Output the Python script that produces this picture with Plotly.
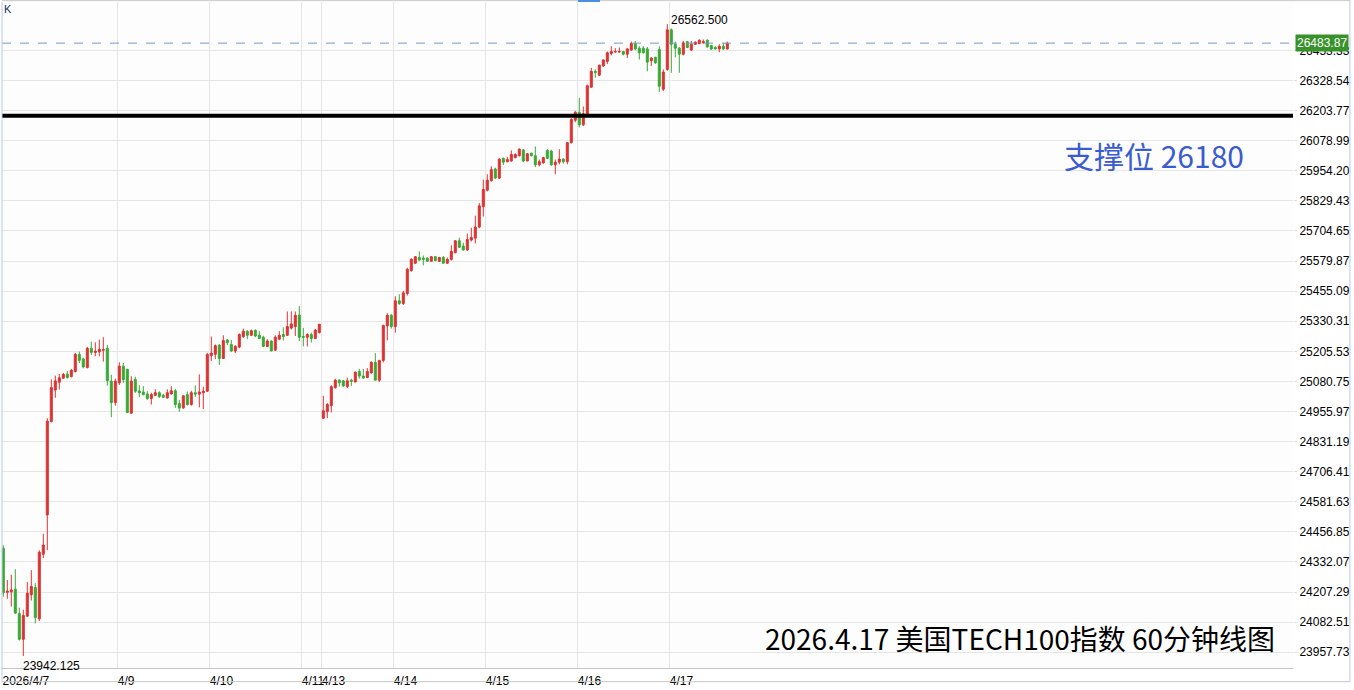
import plotly.graph_objects as go

# ---------------- data (hourly candles, 2026/4/7 - 4/17) ----------------
opens = [24389, 24206, 24208, 24219, 24118, 24011, 24107, 24196, 24226, 24096,
         24364, 24527, 24914, 25045, 25077, 25094, 25111, 25101, 25122, 25193,
         25174, 25138, 25218, 25201, 25203, 25210, 25218, 25082, 24993, 25075,
         25144, 25131, 24949, 25089, 25041, 25037, 25029, 25010, 25023, 25034,
         25023, 25012, 25029, 25042, 24989, 24971, 25026, 24985, 25034, 25028,
         25034, 25040, 25188, 25193, 25231, 25176, 25253, 25234, 25207, 25223,
         25267, 25289, 25272, 25293, 25272, 25264, 25226, 25248, 25210, 25256,
         25275, 25272, 25302, 25308, 25356, 25267, 25264, 25275, 25259, 25283,
         24928, 24955, 24980, 25055, 25086, 25083, 25059, 25086, 25078, 25122,
         25103, 25097, 25116, 25160, 25086, 25168, 25311, 25355, 25308, 25415,
         25404, 25445, 25541, 25571, 25595, 25592, 25592, 25579, 25598, 25579,
         25595, 25571, 25587, 25615, 25664, 25642, 25626, 25667, 25675, 25721,
         25806, 25874, 25913, 25962, 25924, 26006, 25992, 25995, 26009, 26017,
         26041, 25995, 26027, 26017, 25979, 25987, 26039, 26036, 25979, 25990,
         26003, 25992, 26071, 26164, 26197, 26145, 26183, 26301, 26367, 26351,
         26389, 26408, 26441, 26447, 26447, 26449, 26438, 26455, 26482, 26463,
         26463, 26460, 26411, 26425, 26457, 26293, 26375, 26539, 26479, 26463,
         26438, 26490, 26455, 26479, 26482, 26485, 26496, 26474, 26466, 26460,
         26471, 26460]
highs = [24401, 24257, 24279, 24302, 24142, 24134, 24249, 24298, 24244, 24380,
         24449, 24928, 25089, 25105, 25112, 25116, 25124, 25132, 25198, 25204,
         25179, 25224, 25246, 25243, 25254, 25264, 25232, 25108, 25092, 25160,
         25157, 25133, 25102, 25100, 25065, 25061, 25040, 25034, 25048, 25040,
         25029, 25048, 25061, 25050, 25004, 25023, 25039, 25042, 25064, 25110,
         25059, 25198, 25267, 25234, 25236, 25272, 25256, 25253, 25231, 25280,
         25300, 25293, 25296, 25296, 25289, 25270, 25256, 25251, 25272, 25289,
         25305, 25371, 25371, 25371, 25393, 25303, 25280, 25283, 25297, 25319,
         25021, 24991, 25065, 25092, 25089, 25086, 25097, 25092, 25122, 25133,
         25133, 25136, 25164, 25198, 25168, 25316, 25363, 25360, 25434, 25442,
         25456, 25552, 25592, 25601, 25620, 25603, 25595, 25601, 25601, 25595,
         25601, 25595, 25645, 25667, 25677, 25656, 25694, 25718, 25768, 25820,
         25918, 25940, 25973, 25967, 26006, 26009, 26012, 26039, 26027, 26047,
         26044, 26027, 26030, 26055, 26001, 26012, 26044, 26041, 26001, 26044,
         26006, 26074, 26173, 26203, 26257, 26221, 26312, 26381, 26375, 26395,
         26416, 26449, 26471, 26463, 26466, 26452, 26463, 26490, 26493, 26471,
         26471, 26468, 26425, 26427, 26471, 26375, 26562.5, 26545, 26490, 26468,
         26493, 26493, 26493, 26490, 26499, 26499, 26499, 26477, 26471, 26479,
         26485, 26490]
lows = [24188, 24179, 24147, 24117, 24006, 23942.125, 24105, 24172, 24077, 24087,
        24348, 24381, 24911, 25013, 25047, 25092, 25092, 25097, 25118, 25157,
        25135, 25135, 25190, 25185, 25185, 25163, 25063, 24932, 24980, 25066,
        25075, 24949, 24947, 25033, 25015, 25023, 25004, 24985, 25020, 25012,
        25012, 25010, 25026, 24971, 24955, 24967, 24980, 24980, 25016, 24973,
        24966, 25037, 25166, 25174, 25149, 25174, 25231, 25204, 25198, 25218,
        25261, 25256, 25270, 25264, 25259, 25223, 25226, 25207, 25210, 25253,
        25250, 25269, 25296, 25269, 25248, 25226, 25226, 25242, 25256, 25280,
        24925, 24928, 24952, 25051, 25059, 25059, 25053, 25062, 25078, 25092,
        25092, 25094, 25114, 25086, 25078, 25160, 25251, 25300, 25283, 25398,
        25398, 25437, 25535, 25568, 25582, 25562, 25576, 25579, 25579, 25579,
        25571, 25568, 25582, 25612, 25634, 25623, 25623, 25661, 25653, 25716,
        25765, 25869, 25910, 25920, 25920, 25979, 25990, 25992, 26006, 26014,
        25990, 25995, 26014, 25970, 25973, 25984, 26003, 25976, 25940, 25981,
        25984, 25981, 26068, 26156, 26134, 26140, 26180, 26298, 26340, 26348,
        26386, 26397, 26433, 26444, 26444, 26433, 26422, 26452, 26455, 26416,
        26441, 26367, 26389, 26397, 26282, 26285, 26370, 26361, 26425, 26361,
        26433, 26463, 26452, 26476, 26479, 26482, 26466, 26455, 26457, 26446,
        26455, 26457]
closes = [24204, 24211, 24216, 24120, 24011, 24110, 24202, 24230, 24101, 24372,
          24402, 24916, 25055, 25083, 25096, 25110, 25097, 25127, 25193, 25168,
          25141, 25218, 25201, 25206, 25214, 25213, 25084, 24993, 25082, 25144,
          25089, 24952, 25082, 25040, 25034, 25026, 25010, 25026, 25034, 25018,
          25015, 25034, 25042, 24985, 24970, 25021, 24985, 25034, 25028, 25037,
          25040, 25193, 25198, 25229, 25176, 25250, 25242, 25207, 25226, 25275,
          25289, 25272, 25291, 25269, 25259, 25226, 25248, 25207, 25264, 25272,
          25267, 25308, 25319, 25355, 25264, 25264, 25275, 25259, 25294, 25318,
          24959, 24985, 25059, 25086, 25075, 25062, 25083, 25081, 25119, 25103,
          25095, 25122, 25160, 25086, 25168, 25313, 25355, 25308, 25415, 25404,
          25448, 25546, 25587, 25598, 25584, 25587, 25579, 25598, 25582, 25595,
          25571, 25587, 25620, 25664, 25637, 25626, 25669, 25678, 25721, 25809,
          25877, 25915, 25959, 25924, 26003, 25990, 26001, 26022, 26022, 26044,
          25995, 26025, 26017, 25979, 25992, 26009, 26006, 25979, 25990, 26003,
          25992, 26071, 26167, 26197, 26145, 26191, 26307, 26367, 26362, 26392,
          26414, 26444, 26449, 26449, 26449, 26438, 26460, 26482, 26460, 26444,
          26444, 26405, 26422, 26403, 26305, 26364, 26539, 26479, 26463, 26438,
          26485, 26466, 26479, 26488, 26496, 26490, 26468, 26460, 26460, 26471,
          26460, 26483.87]

# day boundaries (candle index positions) and their labels
day_tick_pos = [-0.32, 28.5, 51.5, 74.5, 79.5, 97.5, 120.5, 143.5, 166.5]
day_tick_text = ["2026/4/7", "4/9", "4/10", "4/11", "4/13", "4/14", "4/15", "4/16", "4/17"]

# price axis ticks
price_ticks = [23957.73, 24082.51, 24207.29, 24332.07, 24456.85, 24581.63, 24706.41,
               24831.19, 24955.97, 25080.75, 25205.53, 25330.31, 25455.09, 25579.87,
               25704.65, 25829.43, 25954.20, 26078.99, 26203.77, 26328.54, 26453.33]
price_tick_text = ["%.2f" % v for v in price_ticks]

last_price = 26483.87
support_level = 26183
support_label = "支撑位 26180"
support_label_y = 26018
high_label = "26562.500"
low_label = "23942.125"
title_text = "2026.4.17 美国TECH100指数 60分钟线图"
title_y = 24015

RED = "#dc3232"
GREEN = "#3aa935"

x_idx = list(range(len(opens)))
hi_i = highs.index(max(highs))
lo_i = lows.index(min(lows))

fig = go.Figure()
fig.add_trace(go.Candlestick(
    x=x_idx, open=opens, high=highs, low=lows, close=closes,
    increasing=dict(line=dict(color=RED, width=1), fillcolor=RED),
    decreasing=dict(line=dict(color=GREEN, width=1), fillcolor=GREEN),
    whiskerwidth=0, hoverinfo="skip", showlegend=False,
))

shapes = [
    # support line
    dict(type="line", xref="paper", x0=0, x1=1, yref="y", y0=support_level, y1=support_level,
         line=dict(color="black", width=4), layer="above"),
    # last price dashed line
    dict(type="line", xref="paper", x0=0, x1=1, yref="y", y0=last_price, y1=last_price,
         line=dict(color="#7d97c8", width=1, dash="dash"), layer="above"),
    # frame lines
    dict(type="line", xref="paper", x0=0, x1=0, yref="paper", y0=-0.021, y1=1,
         line=dict(color="#b8c8ee", width=1)),
    dict(type="line", xref="paper", x0=1.0441, x1=1.0441, yref="paper", y0=-0.021, y1=1.003,
         line=dict(color="#b8c8ee", width=1)),
    dict(type="line", xref="paper", x0=0, x1=1.0441, yref="paper", y0=1.002, y1=1.002,
         line=dict(color="#c8c8c8", width=1)),
    dict(type="line", xref="paper", x0=0, x1=1.0441, yref="paper", y0=-0.0205, y1=-0.0205,
         line=dict(color="#c8c8c8", width=1)),
    # small blue marker at top
    dict(type="rect", xref="paper", x0=(578 - 2) / 1291, x1=(600 - 2) / 1291,
         yref="paper", y0=1.0, y1=1.003, fillcolor="#4a90e2", line=dict(width=0)),
]

annotations = [
    dict(x=hi_i + 0.5, y=max(highs), xref="x", yref="y", text=high_label, showarrow=False,
         xanchor="left", yanchor="middle", yshift=4,
         font=dict(family="Liberation Sans, Arial", size=12, color="black")),
    dict(x=lo_i - 0.5, y=min(lows), xref="x", yref="y", text=low_label, showarrow=False,
         xanchor="left", yanchor="middle", yshift=-10,
         font=dict(family="Liberation Sans, Arial", size=12, color="black")),
    dict(x=1, y=last_price, xref="paper", yref="y", text=str(last_price), showarrow=False,
         xanchor="left", yanchor="middle", xshift=2, bgcolor="#37922a", borderpad=1,
         font=dict(family="Liberation Sans, Arial", size=12, color="white")),
    dict(x=0.821, y=support_label_y, xref="paper", yref="y", text=support_label, showarrow=False,
         xanchor="left", yanchor="middle",
         font=dict(family="Noto Sans CJK SC", size=30, color="#3b5bd0")),
    dict(x=0.9876, y=title_y, xref="paper", yref="y", text=title_text, showarrow=False,
         xanchor="right", yanchor="middle",
         font=dict(family="Noto Sans CJK SC", size=28, color="black")),
    dict(x=0, y=1, xref="paper", yref="paper", text="K", showarrow=False,
         xanchor="left", yanchor="top", xshift=0, yshift=1,
         font=dict(family="Liberation Sans, Arial", size=11, color="#1c2f5a")),
]

fig.update_layout(
    width=1354, height=690,
    margin=dict(l=2, r=61, t=2, b=15),
    paper_bgcolor="white", plot_bgcolor="#fdfdfd",
    boxgap=0.5, boxgroupgap=0,
    shapes=shapes, annotations=annotations,
    xaxis=dict(
        range=[-0.325, 322.425], rangeslider=dict(visible=False),
        tickmode="array", tickvals=day_tick_pos, ticktext=day_tick_text,
        ticklabelposition="outside right", tickangle=0, ticks="",
        ticklabelstandoff=2,
        showgrid=True, gridcolor="#e6e6e6", gridwidth=1,
        showline=True, linecolor="#c4c4c4", linewidth=1,
        zeroline=False,
        tickfont=dict(family="Liberation Sans, Arial", size=12, color="black"),
    ),
    yaxis=dict(
        side="right", range=[23892.06, 26654.46],
        tickmode="array", tickvals=price_ticks, ticktext=price_tick_text,
        showgrid=True, gridcolor="#e6e6e6", gridwidth=1,
        ticks="outside", ticklen=3, tickcolor="#e0e0e0",
        zeroline=False, showline=False,
        tickfont=dict(family="Liberation Sans, Arial", size=12, color="black"),
    ),
)

fig.write_html(
    "out.html",
    config={"displayModeBar": False},
    post_script="document.body.style.margin='0px';document.body.style.overflow='hidden';",
)
